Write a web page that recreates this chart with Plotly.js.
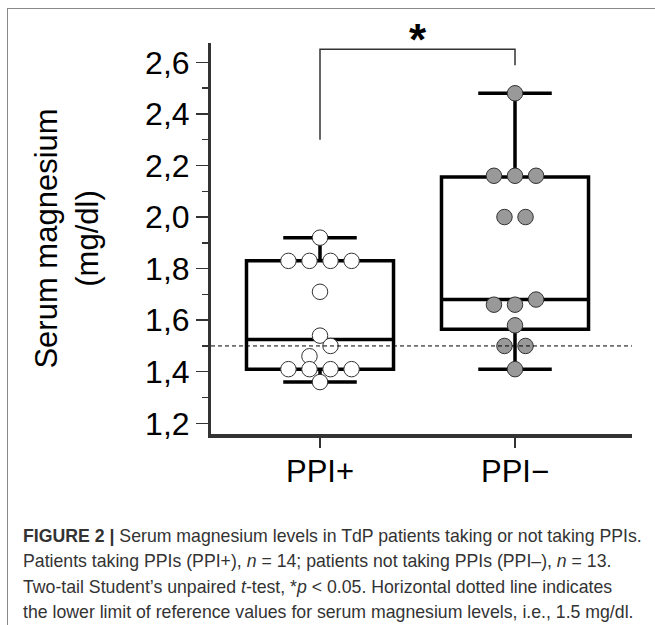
<!DOCTYPE html>
<html>
<head>
<meta charset="utf-8">
<script src="https://cdn.plot.ly/plotly-3.0.1.min.js"></script>
<style>
  html, body { margin: 0; padding: 0; background: #fff; }
  #wrap { position: relative; width: 655px; height: 625px; }
  #chart { position: absolute; left: 0; top: 0; width: 655px; height: 625px; }
  #frame { position: absolute; left: 7px; top: 8px; width: 660px; height: 630px;
           border-left: 1px solid #8a8a8a; border-top: 1px solid #8a8a8a; pointer-events: none; }
</style>
</head>
<body>
<div id="wrap">
  <div id="chart"></div>
  <div id="frame"></div>
</div>
<script>
// ---- data ----
const categories = ["PPI+", "PPI\u2212"];

// box statistics (mg/dl)
const q1 = [1.41, 1.565];
const median = [1.525, 1.68];
const q3 = [1.83, 2.155];
const lowerWhisker = [1.36, 1.41];
const upperWhisker = [1.92, 2.48];

// individual patients (mg/dl)
const ppiPlusValues  = [1.92, 1.83, 1.83, 1.83, 1.83, 1.71, 1.54, 1.50, 1.46, 1.41, 1.41, 1.41, 1.41, 1.36];
const ppiPlusSlots   = [0, -3, -1, 1, 3, 0, 0, 1, -1, -3, -1, 1, 3, 0];
const ppiMinusValues = [2.48, 2.16, 2.16, 2.16, 2.00, 2.00, 1.68, 1.66, 1.66, 1.58, 1.50, 1.50, 1.41];
const ppiMinusSlots  = [0, -2, 0, 2, -1, 1, 2, -2, 0, 0, -1, 1, 0];

// reference line & significance
const referenceLimit = 1.5;
const bracketLeftLow = 2.30, bracketTop = 2.651, bracketRightLow = 2.589;
const significanceLabel = "*";

const yTickVals = [1.2, 1.4, 1.6, 1.8, 2.0, 2.2, 2.4, 2.6];
const yTickText = ["1,2", "1,4", "1,6", "1,8", "2,0", "2,2", "2,4", "2,6"];

const captionLines = [
  "<b>FIGURE 2 |</b> Serum magnesium levels in TdP patients taking or not taking PPIs.",
  "Patients taking PPIs (PPI+), <i>n</i> = 14; patients not taking PPIs (PPI\u2013), <i>n</i> = 13.",
  "Two-tail Student\u2019s unpaired <i>t</i>-test, *<i>p</i> &lt; 0.05. Horizontal dotted line indicates",
  "the lower limit of reference values for serum magnesium levels, i.e., 1.5 mg/dl."
];

// ---- layout constants ----
const W = 655, H = 625;
const M = { l: 211, r: 23, t: 43, b: 191 };
const slotW = 0.054;
const font = "Liberation Sans, Arial, sans-serif";

const traces = [];
[0, 1].forEach(i => {
  traces.push({
    type: "box",
    x: [i], q1: [q1[i]], median: [median[i]], q3: [q3[i]],
    lowerfence: [lowerWhisker[i]], upperfence: [upperWhisker[i]],
    width: 0.754, whiskerwidth: 0.5,
    fillcolor: "rgba(0,0,0,0)",
    line: { color: "#000", width: 3.5 },
    boxpoints: false, hoverinfo: "skip", showlegend: false
  });
});
traces.push({
  type: "scatter", mode: "markers",
  x: ppiPlusValues.map((v, k) => 0 + ppiPlusSlots[k] * slotW),
  y: ppiPlusValues,
  marker: { size: 15.5, color: "#ffffff", line: { color: "#333", width: 1 } },
  showlegend: false, hoverinfo: "y"
});
traces.push({
  type: "scatter", mode: "markers",
  x: ppiMinusValues.map((v, k) => 1 + ppiMinusSlots[k] * slotW),
  y: ppiMinusValues,
  marker: { size: 15.5, color: "#999999", line: { color: "#333", width: 1 } },
  showlegend: false, hoverinfo: "y"
});

const plotW = W - M.l - M.r, plotH = H - M.t - M.b;
const px2paperX = px => (px - M.l) / plotW;
const px2paperY = py => (H - M.b - py) / plotH;

const captionY = [536, 561, 587, 612];
const annotations = captionLines.map((t, k) => ({
  text: t, xref: "paper", yref: "paper",
  x: px2paperX(21), y: px2paperY(captionY[k]),
  xanchor: "left", yanchor: "middle", showarrow: false, align: "left",
  font: { family: font, size: 17.7, color: "#333" }
}));
annotations.push({
  text: "<b>" + significanceLabel + "</b>", xref: "x", yref: "y",
  x: 0.5, y: bracketTop, xanchor: "center", yanchor: "bottom", yshift: -17,
  showarrow: false, font: { family: font, size: 44, color: "#000" }
});

const layout = {
  width: W, height: H,
  margin: M,
  paper_bgcolor: "#fff", plot_bgcolor: "#fff",
  font: { family: font, color: "#000" },
  showlegend: false,
  xaxis: {
    type: "linear", range: [-0.559, 1.6],
    tickvals: [0, 1], ticktext: categories,
    ticks: "outside", ticklen: 10, tickwidth: 1.5, tickcolor: "#333",
    ticklabelstandoff: -3,
    showline: true, linecolor: "#333", linewidth: 3.5,
    showgrid: false, zeroline: false,
    tickfont: { family: font, size: 31, color: "#000" }
  },
  yaxis: {
    range: [1.1585, 2.675],
    tickvals: yTickVals, ticktext: yTickText,
    ticks: "outside", ticklen: 12, tickwidth: 1.5, tickcolor: "#333",
    minor: { tickvals: [1.3, 1.5, 1.7, 1.9, 2.1, 2.3, 2.5], ticks: "outside", ticklen: 6, tickwidth: 1.5, tickcolor: "#333" },
    showline: true, linecolor: "#333", linewidth: 3,
    showgrid: false, zeroline: false,
    tickfont: { family: font, size: 32, color: "#000" },
    title: { text: "Serum magnesium<br>(mg/dl)", font: { family: font, size: 31, color: "#000" }, standoff: 38 }
  },
  shapes: [
    { type: "line", xref: "paper", yref: "y", x0: 0, x1: 1, y0: referenceLimit, y1: referenceLimit,
      line: { color: "#000", width: 1, dash: "4px,3px" }, layer: "above" },
    { type: "path", xref: "x", yref: "y",
      path: `M 0 ${bracketLeftLow} L 0 ${bracketTop} L 1 ${bracketTop} L 1 ${bracketRightLow}`,
      line: { color: "#333", width: 1.5 } }
  ],
  annotations: annotations
};

Plotly.newPlot("chart", traces, layout, { displayModeBar: false, staticPlot: true });
</script>
</body>
</html>
